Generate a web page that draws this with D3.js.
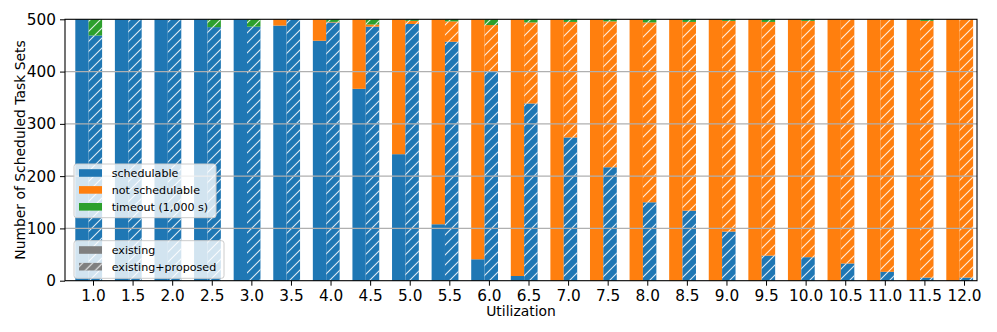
<!DOCTYPE html>
<meta charset="utf-8">
<style>
  body { margin: 0; background: #fff; }
  svg { font-family: "DejaVu Sans", sans-serif; }
</style>
<script src="https://cdn.jsdelivr.net/npm/d3@7"></script>
<svg id="chart" width="997" height="332"></svg>
<script>
  const utilization = ["1.0", "1.5", "2.0", "2.5", "3.0", "3.5", "4.0", "4.5", "5.0", "5.5", "6.0", "6.5",
    "7.0", "7.5", "8.0", "8.5", "9.0", "9.5", "10.0", "10.5", "11.0", "11.5", "12.0"];

  // existing analysis
  const existingSched = [500, 500, 500, 500, 500, 488, 459, 367, 242, 108, 41, 9, 0, 0, 0, 0, 0, 0, 0, 0, 0, 0, 0];
  const existingNot = [0, 0, 0, 0, 0, 12, 41, 133, 258, 392, 459, 491, 500, 500, 500, 500, 500, 500, 500, 500, 500, 500, 500];
  const existingTimeout = [0, 0, 0, 0, 0, 0, 0, 0, 0, 0, 0, 0, 0, 0, 0, 0, 0, 0, 0, 0, 0, 0, 0];

  // existing + proposed
  const proposedSched = [469, 500, 500, 485, 486, 500, 494, 486, 491, 457, 400, 339, 274, 217, 150, 134, 94, 48, 45, 33, 17, 6, 6];
  const proposedNot = [0, 0, 0, 0, 0, 0, 1, 4, 6, 39, 89, 155, 221, 279, 344, 361, 403, 447, 452, 467, 483, 491, 494];
  const proposedTimeout = [31, 0, 0, 15, 14, 0, 5, 10, 3, 4, 11, 6, 5, 4, 6, 5, 3, 5, 3, 0, 0, 3, 0];

  const yTicks = [0, 100, 200, 300, 400, 500];
  const statusLabels = ["schedulable", "not schedulable", "timeout (1,000 s)"];
  const statusColors = ["#1f77b4", "#ff7f0e", "#2ca02c"];
  const methodLabels = ["existing", "existing+proposed"];

  const svg = d3.select("#chart");
  const plotL = 65, plotR = 977, plotT = 19.3, plotB = 280.7;

  const x = d3.scalePoint().domain(utilization).range([93, 964]);
  const step = x.step();
  const y = d3.scaleLinear().domain([0, 500]).range([plotB, plotT]);

  const defs = svg.append("defs");
  const pat = defs.append("pattern")
    .attr("id", "hatch")
    .attr("patternUnits", "userSpaceOnUse")
    .attr("width", 10)
    .attr("height", 10);
  pat.append("path")
    .attr("d", "M-1,1 l2,-2 M0,10 l10,-10 M9,11 l2,-2")
    .attr("stroke", "#fff")
    .attr("stroke-opacity", 0.85)
    .attr("stroke-width", 1.1);

  function stackRows(sched, not, timeout) {
    return utilization.map((u, i) => {
      const s = [sched[i], not[i], timeout[i]];
      let acc = 0;
      return s.map((v, k) => {
        const seg = { u: u, k: k, y0: acc, y1: acc + v };
        acc += v;
        return seg;
      });
    }).flat();
  }

  const groups = [
    { rows: stackRows(existingSched, existingNot, existingTimeout), x0: -0.447, x1: -0.11, hatch: false },
    { rows: stackRows(proposedSched, proposedNot, proposedTimeout), x0: -0.11, x1: 0.23, hatch: true },
  ];

  groups.forEach((g) => {
    const sel = svg.append("g")
      .selectAll()
      .data(g.rows.filter((d) => d.y1 > d.y0))
      .join("g");
    sel.append("rect")
      .attr("x", (d) => x(d.u) + g.x0 * step)
      .attr("width", (g.x1 - g.x0) * step)
      .attr("y", (d) => y(d.y1))
      .attr("height", (d) => y(d.y0) - y(d.y1))
      .attr("fill", (d) => statusColors[d.k]);
    if (g.hatch) {
      sel.append("rect")
        .attr("x", (d) => x(d.u) + g.x0 * step)
        .attr("width", (g.x1 - g.x0) * step)
        .attr("y", (d) => y(d.y1))
        .attr("height", (d) => y(d.y0) - y(d.y1))
        .attr("fill", "url(#hatch)");
    }
  });

  // grid lines sit above the bars like matplotlib's default
  svg.append("g")
    .selectAll()
    .data(yTicks.slice(1, -1))
    .join("line")
    .attr("x1", plotL)
    .attr("x2", plotR)
    .attr("y1", (d) => y(d))
    .attr("y2", (d) => y(d))
    .attr("stroke", "#b0b0b0")
    .attr("stroke-width", 1.1);

  // frame
  svg.append("rect")
    .attr("x", plotL)
    .attr("y", plotT)
    .attr("width", plotR - plotL)
    .attr("height", plotB - plotT)
    .attr("fill", "none")
    .attr("stroke", "#000")
    .attr("stroke-width", 1.1);

  const xAxis = svg.append("g")
    .attr("transform", `translate(0,${plotB})`)
    .call(d3.axisBottom(x).tickSizeOuter(0).tickSize(5).tickPadding(4));
  xAxis.select(".domain").remove();
  xAxis.selectAll("text").attr("font-size", 15.3).attr("font-family", "DejaVu Sans").attr("fill", "#000");

  const yAxis = svg.append("g")
    .attr("transform", `translate(${plotL},0)`)
    .call(d3.axisLeft(y).tickValues(yTicks).tickSizeOuter(0).tickSize(5).tickPadding(4));
  yAxis.select(".domain").remove();
  yAxis.selectAll("text").attr("font-size", 15.3).attr("font-family", "DejaVu Sans").attr("fill", "#000");

  svg.append("text")
    .attr("x", (plotL + plotR) / 2)
    .attr("y", 316)
    .attr("text-anchor", "middle")
    .attr("font-size", 13.9)
    .text("Utilization");

  svg.append("text")
    .attr("transform", `translate(25,${(plotT + plotB) / 2}) rotate(-90)`)
    .attr("text-anchor", "middle")
    .attr("font-size", 13.9)
    .text("Number of Scheduled Task Sets");

  // legends
  function legendBox(x0, y0, w, h) {
    return svg.append("rect")
      .attr("x", x0).attr("y", y0)
      .attr("width", w).attr("height", h)
      .attr("rx", 2.5)
      .attr("fill", "#fff")
      .attr("fill-opacity", 0.8)
      .attr("stroke", "#cccccc")
      .attr("stroke-width", 1);
  }

  legendBox(74, 164, 142, 53.7);
  const leg1 = svg.append("g")
    .selectAll()
    .data(statusLabels)
    .join("g")
    .attr("transform", (d, i) => `translate(79,${173 + i * 16.9})`);
  leg1.append("rect")
    .attr("y", -3.8).attr("width", 23).attr("height", 7.6)
    .attr("fill", (d, i) => statusColors[i]);
  leg1.append("text")
    .attr("x", 32.7).attr("dy", "0.36em")
    .attr("font-size", 11.1)
    .text((d) => d);

  legendBox(74, 240.7, 150, 37.6);
  const leg2 = svg.append("g")
    .selectAll()
    .data(methodLabels)
    .join("g")
    .attr("transform", (d, i) => `translate(79,${250 + i * 16.7})`);
  leg2.append("rect")
    .attr("y", -3.8).attr("width", 23).attr("height", 7.6)
    .attr("fill", "#808080");
  leg2.filter((d, i) => i === 1)
    .append("rect")
    .attr("y", -3.8).attr("width", 23).attr("height", 7.6)
    .attr("fill", "url(#hatch)");
  leg2.append("text")
    .attr("x", 32.7).attr("dy", "0.36em")
    .attr("font-size", 11.1)
    .text((d) => d);
</script>
